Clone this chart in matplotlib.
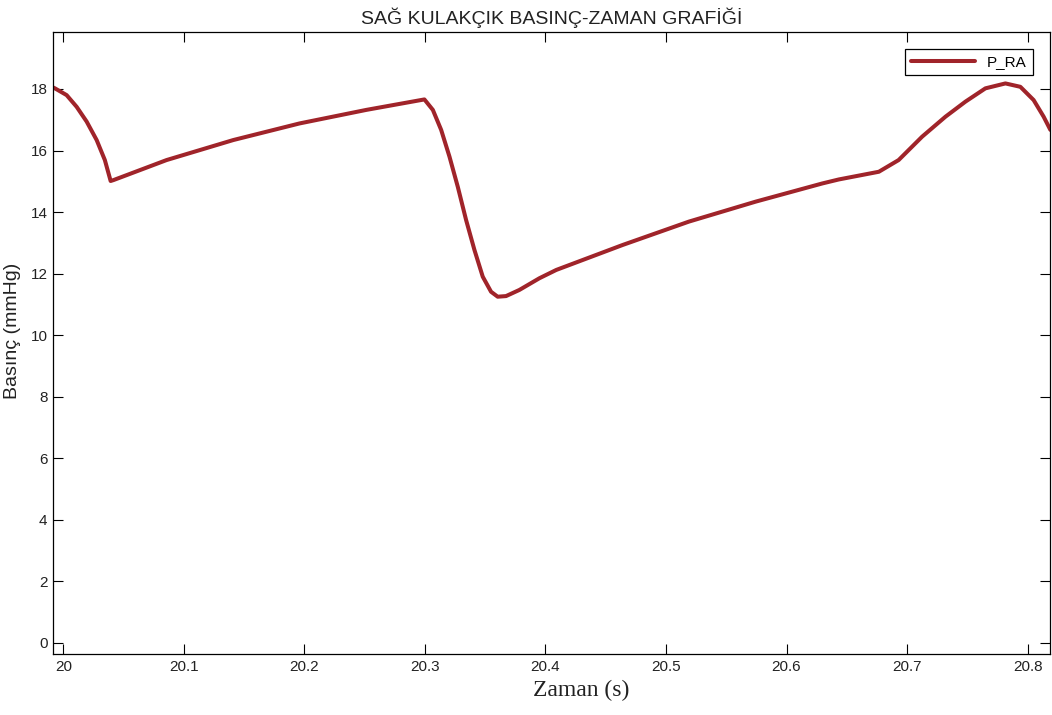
#!/usr/bin/env python3
"""Right atrium pressure vs. time over one cardiac cycle."""

import matplotlib

matplotlib.use("Agg")
import matplotlib.pyplot as plt
from matplotlib.ticker import FormatStrFormatter

# time (s) and right atrial pressure (mmHg)
t = [19.9915, 19.9931, 20.0028, 20.0111, 20.0194, 20.0277, 20.0345, 20.0393,
     20.0417, 20.0857, 20.141, 20.196, 20.2514, 20.2996, 20.3066, 20.3135,
     20.3204, 20.3273, 20.3342, 20.3411, 20.348, 20.3549, 20.3604, 20.3673,
     20.3784, 20.395, 20.409, 20.464, 20.519, 20.5745, 20.6297, 20.6434,
     20.6766, 20.693, 20.7125, 20.7319, 20.7485, 20.765, 20.7816, 20.794,
     20.805, 20.8133, 20.8189]
p_ra = [18.05, 18.02, 17.80, 17.42, 16.94, 16.34, 15.69, 15.01,
        15.04, 15.69, 16.34, 16.88, 17.32, 17.66, 17.32, 16.67,
        15.80, 14.82, 13.74, 12.77, 11.90, 11.41, 11.25, 11.27,
        11.47, 11.85, 12.12, 12.93, 13.69, 14.34, 14.93, 15.06,
        15.31, 15.69, 16.45, 17.10, 17.59, 18.02, 18.18, 18.07,
        17.64, 17.10, 16.67]

x_ticks = [20.0, 20.1, 20.2, 20.3, 20.4, 20.5, 20.6, 20.7, 20.8]
y_ticks = [0, 2, 4, 6, 8, 10, 12, 14, 16, 18]

sans = ["Liberation Sans", "DejaVu Sans"]
serif = ["Liberation Serif", "DejaVu Serif"]

fig = plt.figure(figsize=(10.52, 7.15), dpi=100)
ax = fig.add_axes([0.0504, 0.0853, 0.9476, 0.8699])

ax.plot(t, p_ra, color="#a0242a", lw=2.9, label="P_RA",
        solid_joinstyle="round", solid_capstyle="round")

ax.set_xlim(19.9915, 20.8185)
ax.set_ylim(-0.36, 19.85)
ax.set_xticks(x_ticks)
ax.set_yticks(y_ticks)
ax.xaxis.set_major_formatter(FormatStrFormatter("%g"))

ax.tick_params(direction="in", length=7, width=0.8, top=True, right=True,
               labelsize=11, pad=4, labelcolor="#222222")
for lab in ax.get_xticklabels() + ax.get_yticklabels():
    lab.set_family(sans)
for s in ax.spines.values():
    s.set_linewidth(0.9)

ax.set_title("SAĞ KULAKÇIK BASINÇ-ZAMAN GRAFİĞİ", family=sans, fontsize=14,
             pad=6, color="#222222")
ax.set_xlabel("Zaman (s)", family=serif, fontsize=17, color="#222222")
ax.xaxis.set_label_coords(0.5296, -0.042)
ax.set_ylabel("Basınç (mmHg)", family=sans, fontsize=14, color="#222222")
ax.yaxis.set_label_coords(-0.032, 0.52)

leg = ax.legend(loc="upper right", fancybox=False, edgecolor="black",
                framealpha=1, handlelength=4.2, borderaxespad=1.1,
                prop={"family": sans, "size": 11})
leg.get_frame().set_linewidth(0.9)

fig.savefig("out.png", dpi=100)
